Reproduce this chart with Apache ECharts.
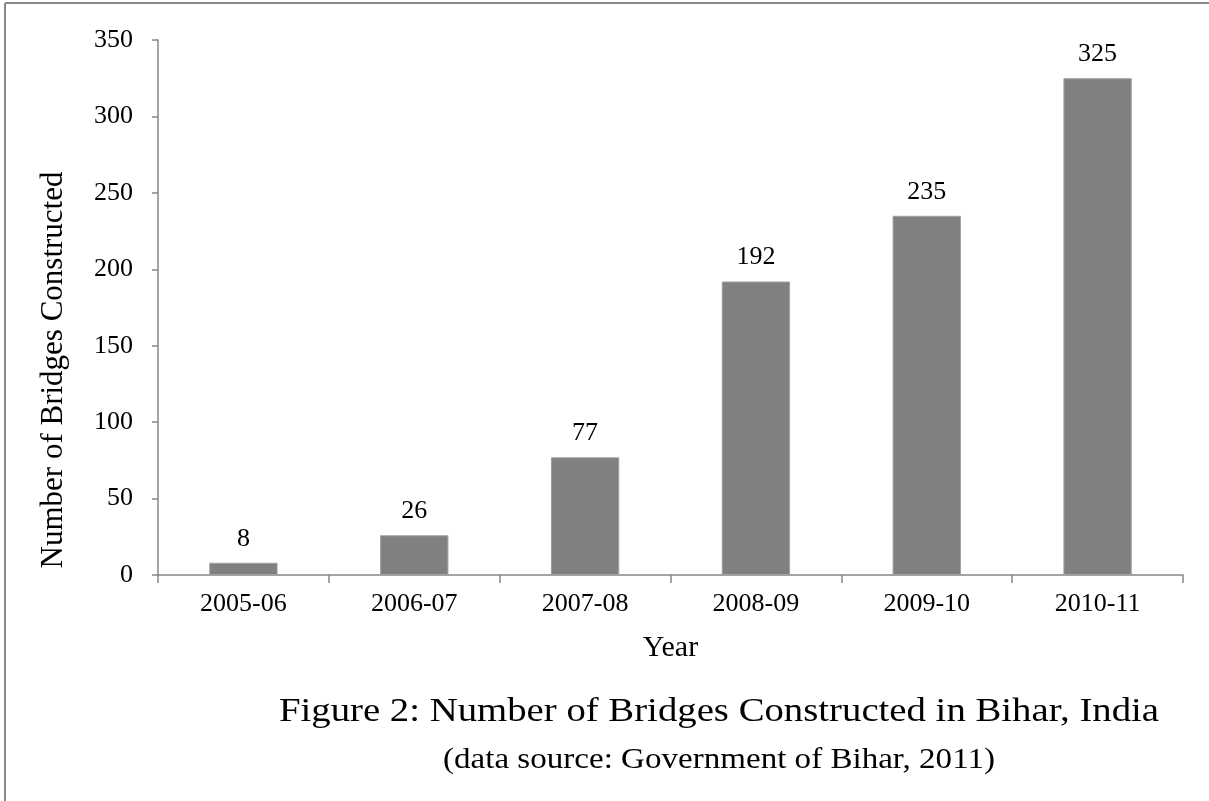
<!DOCTYPE html>
<html><head><meta charset="utf-8">
<script src="https://cdn.jsdelivr.net/npm/echarts@6/dist/echarts.min.js"></script>
<style>html,body{margin:0;padding:0;background:#fff}#c{width:1209px;height:801px}</style>
</head><body><div id="c"></div>
<script>
const categories = ['2005-06','2006-07','2007-08','2008-09','2009-10','2010-11'];
const bridges = [8, 26, 77, 192, 235, 325];
const yTicks = [0, 50, 100, 150, 200, 250, 300, 350];
const titleText = 'Figure 2: Number of Bridges Constructed in Bihar, India';
const subtitleText = '(data source: Government of Bihar, 2011)';
const yName = 'Number of Bridges Constructed';

const font = '"Liberation Serif", "Times New Roman", serif';
const chart = echarts.init(document.getElementById('c'), null, {renderer:'canvas'});
chart.setOption({
  backgroundColor: '#fff',
  animation: false,
  graphic: [
    {type:'line', shape:{x1:5, y1:3, x2:1209, y2:3}, style:{stroke:'#888', lineWidth:2}},
    {type:'line', shape:{x1:5, y1:3, x2:5, y2:801}, style:{stroke:'#888', lineWidth:2}},
    {type:'text', x:719, y:712, scaleX:1.14, scaleY:1,
     style:{text:titleText, font:'34px ' + font, fill:'#000', align:'center', verticalAlign:'middle'}},
    {type:'text', x:719, y:760, scaleX:1.14, scaleY:1,
     style:{text:subtitleText, font:'29px ' + font, fill:'#000', align:'center', verticalAlign:'middle'}},
    {type:'text', x:54, y:370, rotation:Math.PI/2,
     style:{text:yName, font:'31px ' + font, fill:'#000', align:'center', verticalAlign:'middle'}}
  ],
  grid: {left: 158, right: 26, top: 40, bottom: 226, containLabel: false},
  xAxis: {
    type: 'category', data: categories,
    name: 'Year', nameLocation: 'middle', nameGap: 58,
    nameTextStyle: {fontFamily: font, fontSize: 30, color: '#000'},
    axisLine: {lineStyle: {color: '#868686', width: 1.5}},
    axisTick: {show: true, length: 8, alignWithLabel: false, lineStyle: {color: '#868686', width: 1.5}},
    axisLabel: {fontFamily: font, fontSize: 26, color: '#000', margin: 16}
  },
  yAxis: {
    type: 'value', min: 0, max: 350, interval: 50,
    axisLine: {show: true, lineStyle: {color: '#868686', width: 1.5}},
    axisTick: {show: true, length: 6, lineStyle: {color: '#868686', width: 1.5}},
    splitLine: {show: false},
    axisLabel: {fontFamily: font, fontSize: 26, color: '#000', margin: 25,
      formatter: v => yTicks.includes(v) ? String(v) : ''}
  },
  series: [{
    type: 'bar', data: bridges, barWidth: '40%',
    itemStyle: {color: '#808080', borderColor: '#a0a0a0', borderWidth: 1},
    label: {show: true, position: 'top', distance: 11, fontFamily: font, fontSize: 26, color: '#000'}
  }]
});
</script></body></html>
